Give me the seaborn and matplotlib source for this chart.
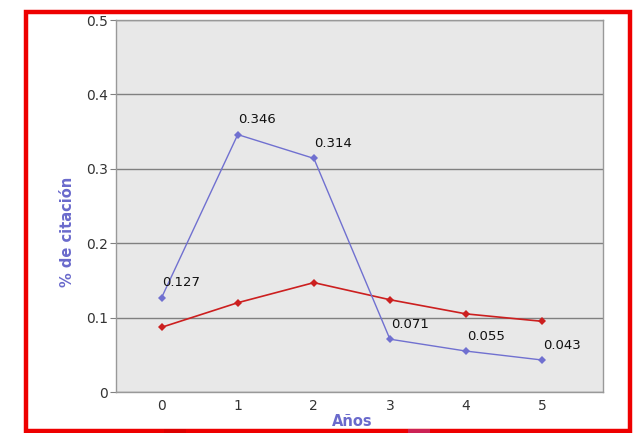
import matplotlib
matplotlib.use("Agg")
import matplotlib.pyplot as plt
from matplotlib.patches import Rectangle
from matplotlib.ticker import FuncFormatter
import seaborn as sns
import pandas as pd

years = [0, 1, 2, 3, 4, 5]
blue_vals = [0.127, 0.346, 0.314, 0.071, 0.055, 0.043]
red_vals = [0.087, 0.120, 0.147, 0.124, 0.105, 0.095]
blue_labels = ["0.127", "0.346", "0.314", "0.071", "0.055", "0.043"]
y_ticks = [0, 0.1, 0.2, 0.3, 0.4, 0.5]
x_label = "Años"
y_label = "% de citación"

sns.set_style("white")
plt.rcParams['font.family'] = ['DejaVu Sans']

df = pd.DataFrame({"year": years, "blue": blue_vals, "red": red_vals})

fig = plt.figure(figsize=(6.39, 4.33), dpi=100)
fig.patch.set_facecolor("white")
ax = fig.add_axes([116/639, 1-392/433, (603-116)/639, (392-20)/433])
ax.set_facecolor("#e8e8e8")

blue_c = "#7070d0"
red_c = "#cc1f1f"
sns.lineplot(data=df, x="year", y="red", ax=ax, color=red_c, lw=1.2,
             marker="D", markersize=4, markeredgewidth=0, zorder=4)
sns.lineplot(data=df, x="year", y="blue", ax=ax, color=blue_c, lw=1.0,
             marker="D", markersize=4, markeredgewidth=0, zorder=5)

for xv, yv, lab in zip(years, blue_vals, blue_labels):
    ax.annotate(lab, (xv, yv), xytext=(0.5, 6), textcoords="offset points",
                ha="left", va="bottom", fontsize=9.5, color="#111111", zorder=6)

ax.set_xlim(-0.6, 5.8)
ax.set_ylim(0, 0.5)
ax.set_yticks(y_ticks)
ax.yaxis.set_major_formatter(FuncFormatter(lambda v, p: "0" if v == 0 else f"{v:.1f}"))
ax.set_xticks(years)
ax.grid(axis="y", color="#808080", lw=1.0)
ax.grid(axis="x", visible=False)
ax.set_axisbelow(True)
for s in ax.spines.values():
    s.set_color("#999999")
    s.set_linewidth(1.0)
ax.tick_params(axis="y", length=4, color="#808080", labelsize=10, labelcolor="#333333", pad=2, left=True)
ax.tick_params(axis="x", length=0, labelsize=10, labelcolor="#333333", pad=5)

ax.set_xlabel(x_label, fontsize=10.5, fontweight="bold", color="#6a6acc")
ax.set_ylabel(y_label, fontsize=10.5, fontweight="bold", color="#6a6acc")
ax.yaxis.set_label_coords(-0.085, 0.43)
ax.xaxis.set_label_coords(0.485, -0.058)

# red frame
fig.patches.append(Rectangle((25.5/639, 1-430.5/433), (629.5-25.5)/639, (430.5-11.5)/433,
                             transform=fig.transFigure, fill=False, edgecolor="#ee0000",
                             lw=3.2, zorder=10))
# truncated legend swatches at bottom
fig.patches.append(Rectangle((164/639, 0), 22/639, 4/433, transform=fig.transFigure,
                             facecolor="#dd0000", edgecolor="none", zorder=11))
fig.patches.append(Rectangle((408/639, 0), 22/639, 4/433, transform=fig.transFigure,
                             facecolor="#cc2255", edgecolor="none", zorder=11))

fig.savefig("out.png", dpi=100)
